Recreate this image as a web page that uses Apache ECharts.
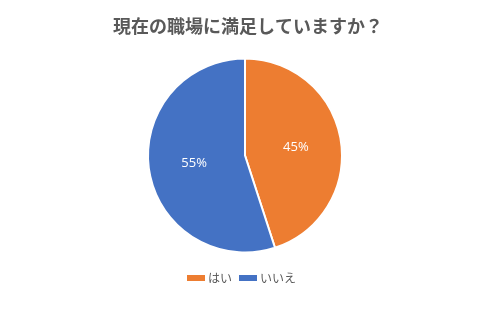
<!DOCTYPE html>
<html><head><meta charset="utf-8">
<script src="https://cdn.jsdelivr.net/npm/echarts@6/dist/echarts.min.js"></script>
<style>html,body{margin:0;padding:0;background:#fff}#c{width:496px;height:311px}</style>
</head><body><div id="c"></div>
<script>
var titleText = '現在の職場に満足していますか？';
var categories = ['はい', 'いいえ'];
var values = [45, 55];
var colors = ['#ED7D31', '#4472C4'];

var chart = echarts.init(document.getElementById('c'), null, {renderer: 'canvas'});
chart.setOption({
  animation: false,
  backgroundColor: '#fff',
  color: colors,
  title: {
    text: titleText, left: 'center', top: 12,
    textStyle: {fontFamily: 'Noto Sans CJK JP', fontSize: 18, fontWeight: 'bold', color: '#595959'}
  },
  legend: {
    data: categories, top: 272, left: 185, padding: 0,
    itemWidth: 20, itemHeight: 8, itemGap: 5, icon: 'rect',
    textStyle: {fontFamily: 'Noto Sans CJK JP', fontSize: 12, color: '#595959', padding: [0, 0, 0, -3]}
  },
  series: [{
    type: 'pie',
    center: [245, 155.5],
    radius: [0, 97],
    startAngle: 90,
    clockwise: true,
    data: categories.map(function (n, i) { return {name: n, value: values[i]}; }),
    itemStyle: {borderColor: '#fff', borderWidth: 2},
    label: {
      position: 'inside', formatter: '{d}%',
      fontFamily: 'Open Sans', fontSize: 13, color: '#fff'
    },
    labelLine: {show: false},
    emphasis: {disabled: true}
  }]
});
</script></body></html>
